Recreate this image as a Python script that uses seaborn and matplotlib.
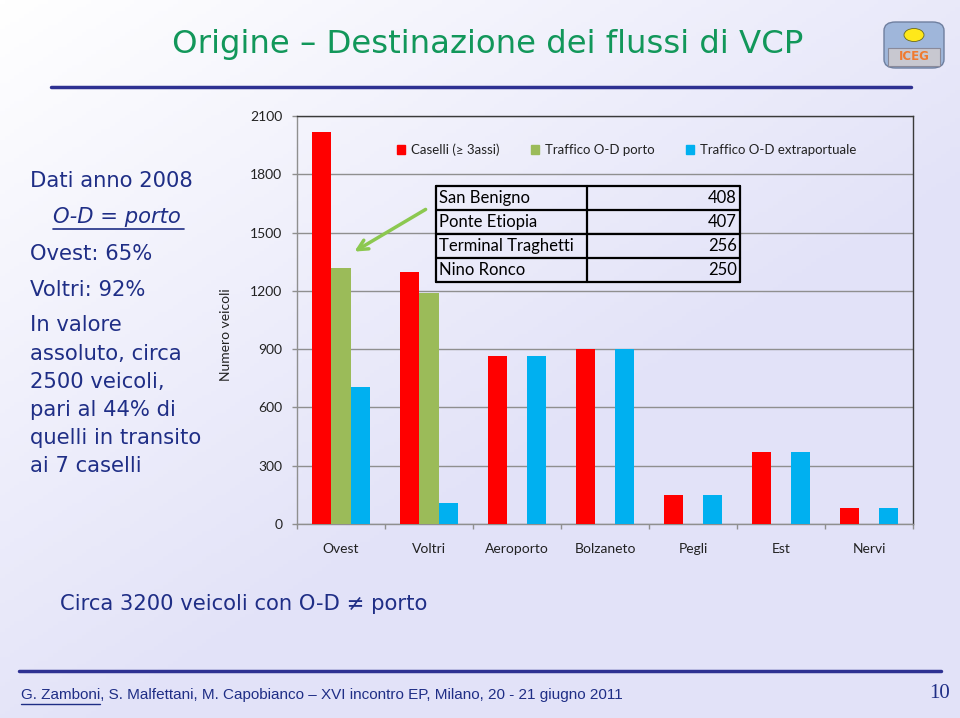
import numpy as np
import pandas as pd
import matplotlib
matplotlib.use("Agg")
import matplotlib.pyplot as plt
import seaborn as sns
from matplotlib.patches import Rectangle, FancyArrowPatch, FancyBboxPatch, Ellipse
from matplotlib.lines import Line2D

# ---------------- data ----------------
categories = ["Ovest", "Voltri", "Aeroporto", "Bolzaneto", "Pegli", "Est", "Nervi"]
caselli = [2020, 1297, 865, 901, 149, 372, 84]
porto = [1316, 1190, 0, 0, 0, 0, 0]
extraportuale = [704, 107, 865, 901, 149, 372, 84]
series_names = ["Caselli (\u2265 3assi)", "Traffico O-D porto", "Traffico O-D extraportuale"]
y_ticks = [0, 300, 600, 900, 1200, 1500, 1800, 2100]
table_names = ["San Benigno", "Ponte Etiopia", "Terminal Traghetti", "Nino Ronco"]
table_values = [408, 407, 256, 250]
left_lines = ["Dati anno 2008", "O-D = porto", "Ovest: 65%", "Voltri: 92%", "In valore",
              "assoluto, circa", "2500 veicoli,", "pari al 44% di", "quelli in transito",
              "ai 7 caselli"]

colors = ["#FF0000", "#9BBB59", "#00B0F0"]
NAVY = "#1F2E86"

df = pd.DataFrame({
    "cat": categories * 3,
    "val": caselli + porto + extraportuale,
    "serie": [series_names[0]] * 7 + [series_names[1]] * 7 + [series_names[2]] * 7,
})

W, H = 960, 718
def fx(x):
    return x / W
def fy(y):
    return 1 - y / H

sns.set_theme(style="white")
plt.rcParams["font.family"] = ["Lato", "DejaVu Sans"]

fig = plt.figure(figsize=(9.6, 7.18), dpi=100)

# background gradient
bg = fig.add_axes([0, 0, 1, 1], zorder=-10)
xx, yy = np.meshgrid(np.linspace(0, 1, 200), np.linspace(0, 1, 200))
t = np.clip(0.75 * xx + 0.9 * yy, 0, 1)
c0 = np.array([1.0, 1.0, 1.0])
c1 = np.array([226, 226, 248]) / 255
img = c0[None, None, :] * (1 - t[..., None]) + c1[None, None, :] * t[..., None]
bg.imshow(img, aspect="auto", extent=[0, 1, 0, 1], origin="upper")
bg.axis("off")

ax = fig.add_axes([fx(297), fy(524), 616 / W, 408 / H])
ax.set_facecolor("none")
sns.barplot(data=df, x="cat", y="val", hue="serie", order=categories,
            hue_order=series_names, palette=colors, width=0.66, saturation=1,
            errorbar=None, legend=False, ax=ax, zorder=3)
for p in ax.patches:
    p.set_linewidth(0)

ax.set_ylim(0, 2100)
ax.set_xlim(-0.5, 6.5)
ax.set_yticks(y_ticks)
ax.set_yticklabels([str(v) for v in y_ticks])
ax.yaxis.grid(True, color="#8f8f8f", lw=1)
ax.set_axisbelow(True)
ax.set_xlabel("")
ax.set_ylabel("")
for s in ["left", "bottom"]:
    ax.spines[s].set_color("#8f8f8f")
    ax.spines[s].set_linewidth(1)
for s in ["top", "right"]:
    ax.spines[s].set_color("#3a3a3a")
    ax.spines[s].set_linewidth(1)
ax.tick_params(axis="y", length=3.6, width=1, color="#8f8f8f", pad=7,
               labelsize=10, labelcolor="#222222", left=True, direction="out")
ax.set_xticks(range(len(categories)))
ax.set_xticklabels(categories)
ax.set_xticks(np.arange(-0.5, 7, 1), minor=True)
ax.tick_params(axis="x", which="major", length=0, pad=14, labelsize=10, labelcolor="#222222")
ax.tick_params(axis="x", which="minor", length=3.6, width=1, color="#8f8f8f",
               bottom=True, direction="out")

fig.text(fx(226), fy(335), "Numero veicoli", rotation=90, ha="center", va="center",
         fontsize=10, color="#222222")

# legend
handles = [Rectangle((0, 0), 1, 1, color=c) for c in colors]
fig.legend(handles, series_names, ncol=3, loc="center",
           bbox_to_anchor=(fx(627), fy(150)), frameon=False, handlelength=0.6,
           handleheight=0.6, handletextpad=0.45, columnspacing=2.4, fontsize=9.5,
           labelcolor="#222222")

# table
rows_y = [186, 210, 234, 258, 282]
x0, xm, x1 = 436, 587, 740
for y in rows_y:
    fig.add_artist(Line2D([fx(x0), fx(x1)], [fy(y), fy(y)], color="black", lw=1.6,
                          transform=fig.transFigure))
for x in [x0, xm, x1]:
    fig.add_artist(Line2D([fx(x), fx(x)], [fy(rows_y[0]), fy(rows_y[-1])], color="black",
                          lw=1.6, transform=fig.transFigure))
for i, (n, v) in enumerate(zip(table_names, table_values)):
    yc = (rows_y[i] + rows_y[i + 1]) / 2
    fig.text(fx(439), fy(yc), n, ha="left", va="center", fontsize=12, color="black")
    fig.text(fx(737), fy(yc), str(v), ha="right", va="center", fontsize=12, color="black")

# arrow
fig.add_artist(FancyArrowPatch((fx(428), fy(208)), (fx(352), fy(253)),
                               transform=fig.transFigure, arrowstyle="->",
                               mutation_scale=18, color="#8CC850", lw=2.5))

# title
fig.text(fx(488), fy(45), "Origine \u2013 Destinazione dei flussi di VCP", ha="center",
         va="center", fontsize=23.3, color="#12975A", family="DejaVu Sans")
fig.add_artist(Line2D([fx(51), fx(911)], [fy(87), fy(87)], color="#2E3192", lw=2.5,
                      transform=fig.transFigure))
fig.add_artist(Line2D([fx(19), fx(941)], [fy(671), fy(671)], color="#2E3192", lw=2.5,
                      transform=fig.transFigure))

# left text
left_pos = [(30, 181), (53, 217), (30, 254), (30, 290), (30, 325), (30, 354), (30, 382),
            (30, 410), (30, 438), (30, 466)]
for i, (txt, (x, y)) in enumerate(zip(left_lines, left_pos)):
    style = "italic" if i == 1 else "normal"
    fig.text(fx(x), fy(y), txt, ha="left", va="center", fontsize=15.2, color=NAVY,
             family="DejaVu Sans", style=style)
    if i == 1:
        fig.add_artist(Line2D([fx(53), fx(184)], [fy(229), fy(229)], color=NAVY, lw=1.2,
                              transform=fig.transFigure))

fig.text(fx(60), fy(604), "Circa 3200 veicoli con O-D \u2260 porto", ha="left",
         va="center", fontsize=15.2, color=NAVY, family="DejaVu Sans")

# footer
foot_fam = ["Liberation Sans Narrow", "Liberation Sans", "DejaVu Sans"]
fig.text(fx(21), fy(695), "G. Zamboni, S. Malfettani, M. Capobianco \u2013 XVI incontro EP, Milano, 20 - 21 giugno 2011",
         ha="left", va="center", fontsize=11, color=NAVY, family=foot_fam)
probe = fig.text(fx(21), fy(695), "G. Zamboni", ha="left", va="center", fontsize=11,
                 color="none", family=foot_fam)
fig.canvas.draw()
bb = probe.get_window_extent(renderer=fig.canvas.get_renderer())
probe.remove()
fig.add_artist(Line2D([fx(21), fx(21 + bb.width)], [fy(704), fy(704)], color=NAVY, lw=1,
                      transform=fig.transFigure))
fig.text(fx(950), fy(694), "10", ha="right", va="center", fontsize=15, color=NAVY,
         family=["Liberation Serif", "DejaVu Serif"])

# logo
fig.add_artist(FancyBboxPatch((fx(884), fy(68)), fx(60), 46 / H,
                              boxstyle="round,pad=0,rounding_size=0.012",
                              transform=fig.transFigure, fc="#9FB6DA", ec="#6F7F9F", lw=1))
fig.add_artist(Rectangle((fx(888), fy(66)), fx(52), 18 / H, transform=fig.transFigure,
                         fc="#C8C8D0", ec="#8A8A9A", lw=0.8))
fig.add_artist(Ellipse((fx(914), fy(35)), fx(20), 13 / H, transform=fig.transFigure,
                       fc="#FFE81A", ec="#6A6A20", lw=0.6))
fig.text(fx(914), fy(57), "ICEG", ha="center", va="center", fontsize=8.5, weight="bold",
         color="#F07A30", family="DejaVu Sans")

fig.savefig("out.png", dpi=100)
